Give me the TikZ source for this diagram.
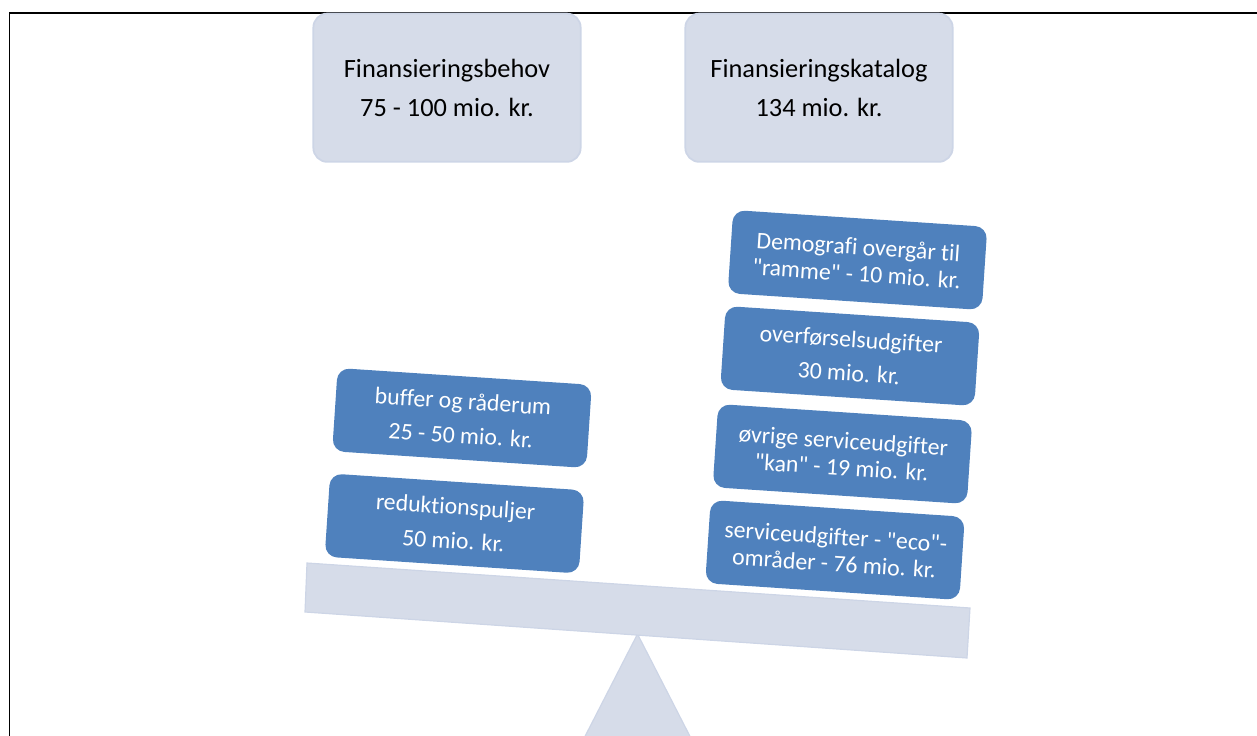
\documentclass[tikz,border=0pt]{standalone}
\usepackage{fontspec}
\setmainfont{Carlito}[Ligatures={TeXOff,NoCommon}]
\definecolor{lightfill}{HTML}{D6DCE9}
\definecolor{lightedge}{HTML}{CDD5E6}
\definecolor{boxblue}{HTML}{4F81BD}
\begin{document}
\begin{tikzpicture}[x=0.03cm,y=-0.03cm,
  topbox/.style={fill=lightfill, draw=lightedge, line width=1.5pt, rounded corners=0.42cm,
    minimum width=8.02cm, minimum height=4.45cm, align=center,
    font=\fontsize{22.5}{33}\selectfont, text=black},
  bluebox/.style={fill=boxblue, rounded corners=0.36cm, minimum width=7.64cm,
    minimum height=2.5cm, align=center, text=white, inner sep=0pt,
    font=\fontsize{20.3}{23}\selectfont, rotate=-3.8},
  lightshape/.style={fill=lightfill, draw=lightedge, line width=1pt}]
\useasboundingbox (0,0) rectangle (1257,736);
\begin{scope}
  \clip (0,0) rectangle (1257,736);
  \filldraw[lightshape] (637.5,634) -- (578,750) -- (697,750) -- cycle;
\end{scope}
\filldraw[lightshape] (307,563) -- (970,608) -- (967,658) -- (305,612) -- cycle;
\draw[line width=1.6pt] (9.5,736) -- (9.5,12.7) -- (1257,12.7);
\node[topbox] (behov) at (447,87.7) {Finansieringsbehov\\75 - 100 mio. kr.};
\node[topbox] (katalog) at (819,87.7) {Finansieringskatalog\\134 mio. kr.};
\node[bluebox] (buffer) at (462,418) {buffer og råderum\\[6pt]25 - 50 mio. kr.};
\node[bluebox] (redu) at (454.5,523.5) {reduktionspuljer\\[6pt]50 mio. kr.};
\node[bluebox] (eco) at (835,550) {serviceudgifter - "eco"-\\områder - 76 mio. kr.};
\node[bluebox] (ovrige) at (842.5,454) {øvrige serviceudgifter\\"kan" - 19 mio. kr.};
\node[bluebox] (overf) at (850,356) {overførselsudgifter\\[6pt]30 mio. kr.};
\node[bluebox] (demo) at (857.5,260) {Demografi overgår til\\"ramme" - 10 mio. kr.};
\end{tikzpicture}
\end{document}
